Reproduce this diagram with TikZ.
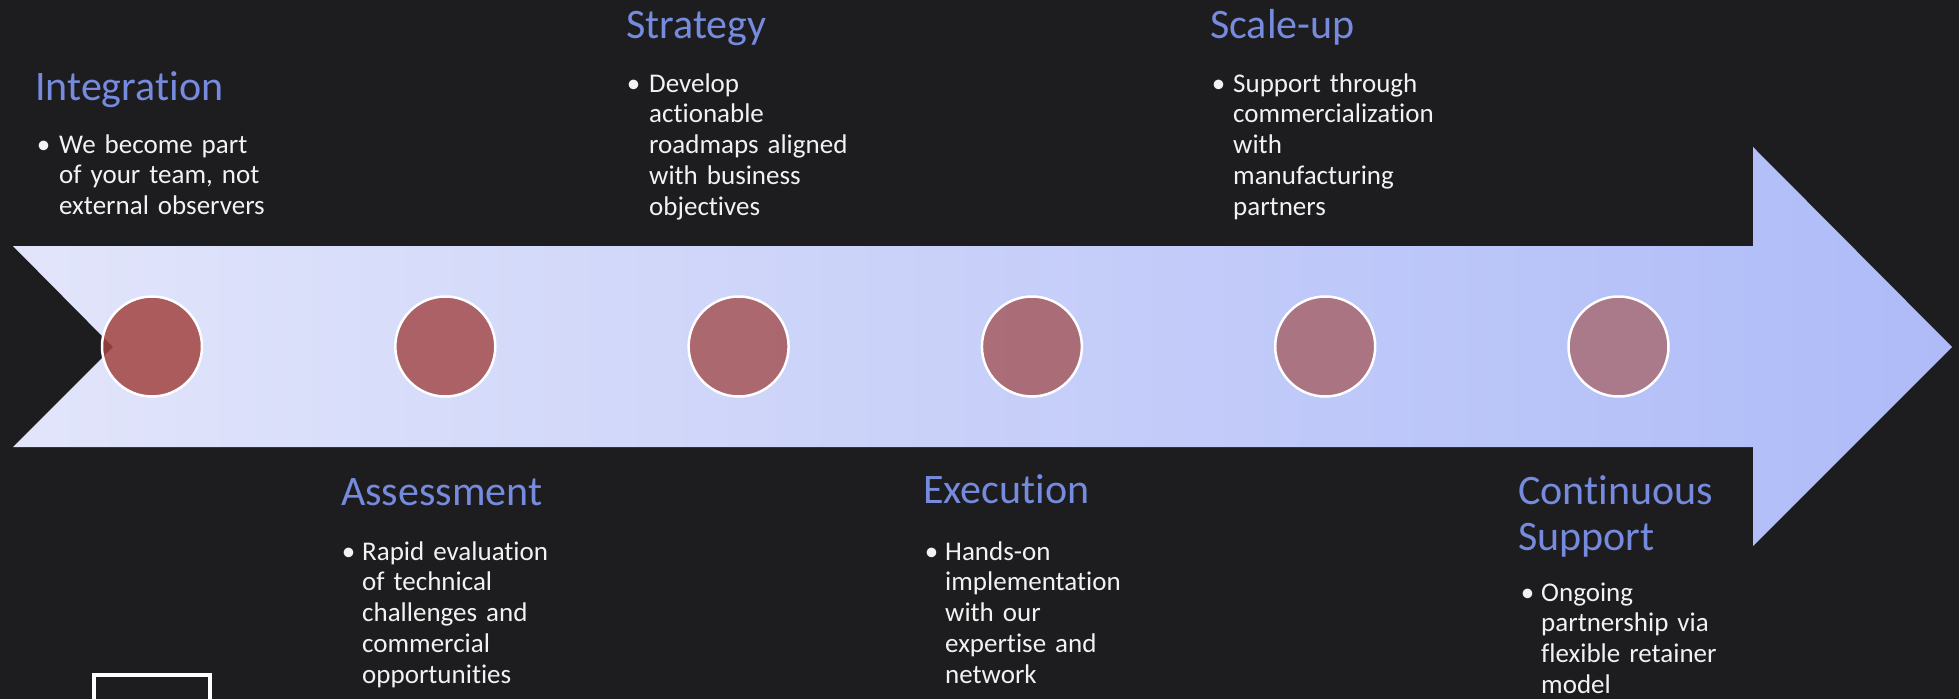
\documentclass[tikz,border=0pt]{standalone}
\usepackage{fontspec}
\setmainfont{Carlito}[Ligatures=NoCommon]
\definecolor{bg}{RGB}{29,29,31}
\definecolor{ttl}{RGB}{118,138,222}
\definecolor{txt}{RGB}{242,242,242}
\definecolor{arL}{RGB}{226,229,250}
\definecolor{arR}{RGB}{174,187,248}
\definecolor{cA}{RGB}{163,68,64}
\definecolor{cB}{RGB}{168,110,121}
\begin{document}
\begin{tikzpicture}[x=1pt,y=-1pt,
  ttlstyle/.style={anchor=base west, inner sep=0pt, text=ttl, font=\fontsize{42}{46}\selectfont, text width=400pt, align=left},
  bodystyle/.style={anchor=base west, inner sep=0pt, text=txt, font=\fontsize{27}{30.8}\selectfont, text width=300pt, align=left},
  bulstyle/.style={anchor=base, inner sep=0pt, text=txt, font=\fontsize{27}{31}\selectfont},
  dot/.style={circle, minimum size=100pt, inner sep=0pt, draw=white, line width=2.5pt, fill opacity=0.85}]
\fill[bg] (0,0) rectangle (1959,699);
\useasboundingbox (0,0) rectangle (1959,699);
\clip (0,0) rectangle (1959,699);
% arrow
\shade[left color=arL, right color=arR]
  (13,246) -- (1753,246) -- (1753,147) -- (1952,347) -- (1753,546) -- (1753,447) -- (13,447) -- (113,347) -- cycle;
% circles
\foreach \i/\p in {0/0,1/20,2/40,3/60,4/80,5/100}{
  \colorlet{cc}{cB!\p!cA}
  \node[dot, fill=cc] (c\i) at ({152+293.3*\i},346.5) {};
}
% Integration
\node[ttlstyle] (t1) at (35,100) {Integration};
\node[bulstyle] (b1) at (43.5,153) {•};
\node[bodystyle] (d1) at (59,153) {We become part\\of your team, not\\external observers};
% Strategy
\node[ttlstyle] (t3) at (626,38) {Strategy};
\node[bulstyle] (b3) at (633.5,92) {•};
\node[bodystyle] (d3) at (649,92) {Develop\\actionable\\roadmaps aligned\\with business\\objectives};
% Scale-up
\node[ttlstyle] (t5) at (1210,38) {Scale-up};
\node[bulstyle] (b5) at (1218.5,92) {•};
\node[bodystyle] (d5) at (1233,92) {Support through\\commercialization\\with\\manufacturing\\partners};
% Assessment
\node[ttlstyle] (t2) at (341,505) {Assessment};
\node[bulstyle] (b2) at (348.5,560) {•};
\node[bodystyle] (d2) at (362,560) {Rapid evaluation\\of technical\\challenges and\\commercial\\opportunities};
% Execution
\node[ttlstyle] (t4) at (923,503) {Execution};
\node[bulstyle] (b4) at (931.5,560) {•};
\node[bodystyle] (d4) at (945,560) {Hands-on\\implementation\\with our\\expertise and\\network};
% Continuous Support
\node[ttlstyle] (t6) at (1518,504) {Continuous\\Support};
\node[bulstyle] (b6) at (1527.5,601) {•};
\node[bodystyle] (d6) at (1541,601) {Ongoing\\partnership via\\flexible retainer\\model};
% white frame at bottom left
\draw[white, line width=4pt] (94,675) rectangle (210,730);
\end{tikzpicture}
\end{document}
